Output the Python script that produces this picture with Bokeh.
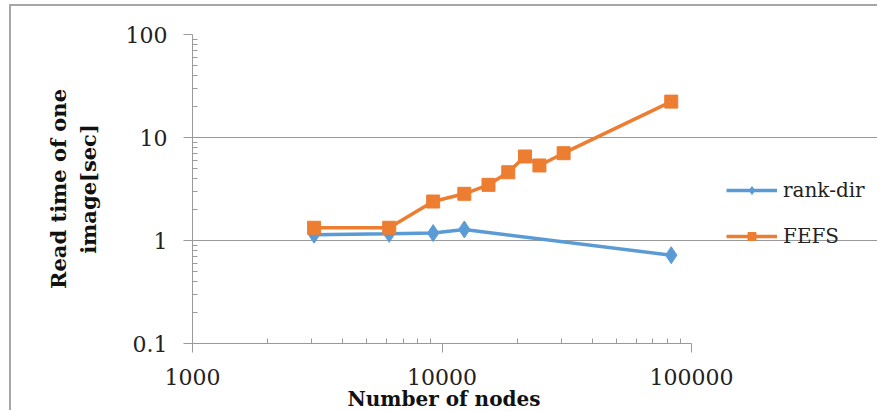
from bokeh.plotting import figure
from bokeh.models import FixedTicker, Legend, LegendItem, Title
from bokeh.embed import file_html
from bokeh.resources import INLINE

# ---- data ----
rank_nodes = [3072, 6144, 9216, 12288, 82944]
rank_time = [1.14, 1.16, 1.18, 1.28, 0.72]
fefs_nodes = [3072, 6144, 9216, 12288, 15360, 18432, 21504, 24576, 30720, 82944]
fefs_time = [1.33, 1.33, 2.39, 2.84, 3.47, 4.6, 6.54, 5.35, 7.04, 22.3]

x_major = [1000, 10000, 100000]
x_tick_labels = ["1000", "10000", "100000"]
y_major = [0.1, 1, 10, 100]
y_tick_labels = ["0.1", "1", "10", "100"]
series_names = ["rank-dir", "FEFS"]
x_title = "Number of nodes"
y_title = "Read time of one\nimage[sec]"

BLUE = "#5B9BD5"
ORANGE = "#ED7D31"
GRID = "#9a9a9a"
FONT = "DejaVu Serif"

# layout: plot area spans 499 px for the two decades; the frame is widened
# to the right edge so the legend (outside the axes) is not clipped
LEFT = 181
FRAME_W = 868 - LEFT
DECADE_PX = 499 / 2.0
x_end = 10 ** (3 + FRAME_W / DECADE_PX)

p = figure(width=868, height=406, x_axis_type="log", y_axis_type="log",
           x_range=(x_major[0], x_end), y_range=(y_major[0], y_major[-1]),
           output_backend="svg", toolbar_location=None,
           min_border_left=LEFT, min_border_right=0,
           min_border_top=28, min_border_bottom=69)
p.styles = {"margin-left": "9px", "margin-top": "4px",
            "border-left": "2px solid #a6a6a6", "border-top": "2px solid #a6a6a6"}
p.outline_line_color = None
p.background_fill_color = "white"
p.border_fill_color = "white"

x_minor = [m * d for d in [1000, 10000] for m in range(2, 10)]
y_minor = [m * d for d in [0.1, 1, 10] for m in range(2, 10)]
p.xaxis.ticker = FixedTicker(ticks=x_major, minor_ticks=x_minor)
p.yaxis.ticker = FixedTicker(ticks=y_major, minor_ticks=y_minor)
p.xaxis.major_label_overrides = {v: s for v, s in zip(x_major, x_tick_labels)}
p.yaxis.major_label_overrides = {v: s for v, s in zip(y_major, y_tick_labels)}
p.xaxis.bounds = (x_major[0], x_major[-1])

for ax in (p.xaxis[0], p.yaxis[0]):
    ax.axis_line_color = GRID
    ax.major_tick_line_color = GRID
    ax.minor_tick_line_color = GRID
    ax.major_tick_in = 0
    ax.major_tick_out = 9
    ax.minor_tick_in = 5
    ax.minor_tick_out = 0
    ax.major_label_text_font = FONT
    ax.major_label_text_font_size = "22px"
    ax.major_label_text_color = "#222222"

p.xaxis.major_label_standoff = 16
p.yaxis.major_label_standoff = 16
p.yaxis.axis_label = y_title
p.yaxis.axis_label_standoff = 22
p.yaxis.axis_label_text_font = FONT
p.yaxis.axis_label_text_font_style = "bold"
p.yaxis.axis_label_text_font_size = "21px"
p.yaxis.axis_label_text_color = "#111111"

# x-axis title centred under the 1000..100000 span (not the widened frame)
xt = Title(text=x_title, align="left", offset=155, standoff=-5,
           text_font=FONT, text_font_style="bold", text_font_size="20px",
           text_color="#111111")
p.add_layout(xt, "below")

p.xgrid.grid_line_color = None
p.ygrid.grid_line_color = GRID
p.ygrid.grid_line_width = 1
p.ygrid.bounds = (x_major[0], x_major[-1])

r1 = p.line(rank_nodes, rank_time, line_color=BLUE, line_width=3.5)
m1 = p.scatter(rank_nodes, rank_time, marker="diamond", size=17,
               fill_color=BLUE, line_color=BLUE)
r2 = p.line(fefs_nodes, fefs_time, line_color=ORANGE, line_width=3.5)
m2 = p.scatter(fefs_nodes, fefs_time, marker="square", size=13,
               fill_color=ORANGE, line_color=ORANGE)

legend = Legend(items=[LegendItem(label=series_names[0], renderers=[r1, m1]),
                       LegendItem(label=series_names[1], renderers=[r2, m2])],
                location=(534, 95))
legend.label_text_font = FONT
legend.label_text_font_size = "20px"
legend.label_text_color = "#222222"
legend.glyph_width = 51
legend.glyph_height = 20
legend.spacing = 22
legend.padding = 0
legend.margin = 0
legend.label_standoff = 6
legend.border_line_color = None
legend.background_fill_alpha = 0
p.add_layout(legend, "center")

open("out.html", "w").write(file_html(p, INLINE))
